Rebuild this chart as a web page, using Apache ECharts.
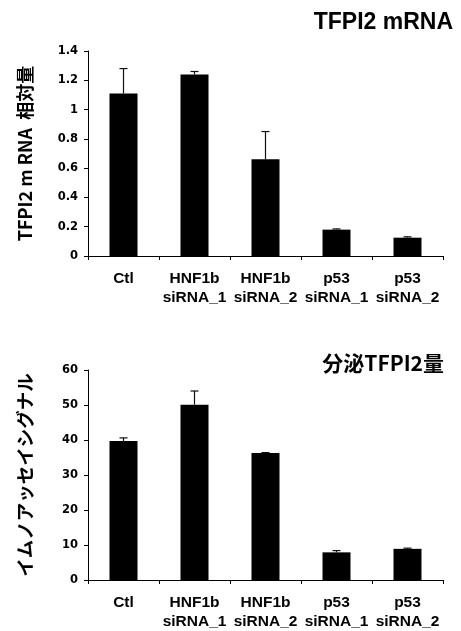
<!DOCTYPE html>
<html>
<head>
<meta charset="utf-8">
<script src="https://cdn.jsdelivr.net/npm/echarts@6/dist/echarts.min.js"></script>
<style>
  html, body { margin: 0; padding: 0; background: #fff; }
  #chart { width: 461px; height: 631px; }
</style>
</head>
<body>
<div id="chart"></div>
<script>
// Sample groups shared by both panels
const categories = ['Ctl', 'HNF1b\nsiRNA_1', 'HNF1b\nsiRNA_2', 'p53\nsiRNA_1', 'p53\nsiRNA_2'];

// Upper panel: relative TFPI2 mRNA level (mean and one-sided error)
const mrnaMean = [1.11, 1.24, 0.66, 0.18, 0.125];
const mrnaErr = [0.17, 0.02, 0.19, 0.005, 0.006];
const mrnaTicks = { min: 0, max: 1.4, interval: 0.2 };

// Lower panel: secreted TFPI2 immunoassay signal (mean and one-sided error)
const assayMean = [39.7, 50.1, 36.3, 7.9, 8.9];
const assayErr = [0.9, 3.9, 0.1, 0.5, 0.2];
const assayTicks = { min: 0, max: 60, interval: 10 };

const LATIN = "'Liberation Sans', Arial, 'Noto Sans CJK JP', sans-serif";
const TICKFONT = "'DejaVu Sans', 'Liberation Sans', sans-serif";
const CJK = "'Noto Sans CJK JP', 'Liberation Sans', sans-serif";

function errorBarSeries(gridIdx, means, errs) {
  return {
    type: 'custom',
    xAxisIndex: gridIdx,
    yAxisIndex: gridIdx,
    z: 1,
    silent: true,
    data: means.map((m, i) => [i, m, errs[i]]),
    encode: { x: 0, y: 1 },
    renderItem: function (params, api) {
      const i = api.value(0);
      const base = api.coord([i, api.value(1)]);
      const top = api.coord([i, api.value(1) + api.value(2)]);
      const half = 4;
      const style = { stroke: '#111', lineWidth: 1.2 };
      return {
        type: 'group',
        children: [
          { type: 'line', shape: { x1: base[0], y1: base[1], x2: top[0], y2: top[1] }, style },
          { type: 'line', shape: { x1: top[0] - half, y1: top[1], x2: top[0] + half, y2: top[1] }, style }
        ]
      };
    }
  };
}

function xAxisFor(gridIdx) {
  return {
    type: 'category',
    gridIndex: gridIdx,
    data: categories,
    boundaryGap: true,
    axisLine: { lineStyle: { color: '#000', width: 1 } },
    axisTick: { show: true, length: 4, lineStyle: { color: '#000' } },
    axisLabel: {
      color: '#000', fontFamily: LATIN, fontWeight: 'bold', fontSize: 15.5,
      lineHeight: 19, margin: 13, interval: 0
    },
    splitLine: { show: false }
  };
}

function yAxisFor(gridIdx, ticks, name, nameFont, nameSize, gap) {
  return {
    type: 'value',
    gridIndex: gridIdx,
    min: ticks.min, max: ticks.max, interval: ticks.interval,
    name: name,
    nameLocation: 'middle',
    nameRotate: 90,
    nameGap: gap,
    nameTextStyle: { color: '#000', fontFamily: nameFont, fontWeight: 'bold', fontSize: nameSize },
    axisLine: { show: true, lineStyle: { color: '#000', width: 1 } },
    axisTick: { show: true, length: 4, lineStyle: { color: '#000' } },
    axisLabel: { color: '#000', fontFamily: TICKFONT, fontWeight: 'bold', fontSize: 11.5, margin: 10 },
    splitLine: { show: false }
  };
}

const chart = echarts.init(document.getElementById('chart'), null, { renderer: 'canvas' });
chart.setOption({
  animation: false,
  backgroundColor: '#fff',
  title: [
    {
      text: 'TFPI2 mRNA', right: 3, top: 6,
      textStyle: { color: '#000', fontFamily: LATIN, fontWeight: 'bold', fontSize: 23 }
    },
    {
      text: '分泌TFPI2量', right: 12, top: 348,
      textStyle: { color: '#000', fontFamily: CJK, fontWeight: 'bold', fontSize: 21 }
    }
  ],
  grid: [
    { left: 88, right: 18, top: 51, height: 205 },
    { left: 88, right: 18, top: 370, height: 215 }
  ],
  xAxis: [xAxisFor(0), xAxisFor(1)],
  yAxis: [
    yAxisFor(0, mrnaTicks, 'TFPI2 m RNA  相対量', CJK, 18, 54),
    yAxisFor(1, assayTicks, 'イムノアッセイシグナル', CJK, 18.5, 54)
  ],
  series: [
    {
      type: 'bar', xAxisIndex: 0, yAxisIndex: 0, data: mrnaMean,
      barWidth: 28, itemStyle: { color: '#000' }, z: 2
    },
    errorBarSeries(0, mrnaMean, mrnaErr),
    {
      type: 'bar', xAxisIndex: 1, yAxisIndex: 1, data: assayMean,
      barWidth: 28, itemStyle: { color: '#000' }, z: 2
    },
    errorBarSeries(1, assayMean, assayErr)
  ]
});
</script>
</body>
</html>
